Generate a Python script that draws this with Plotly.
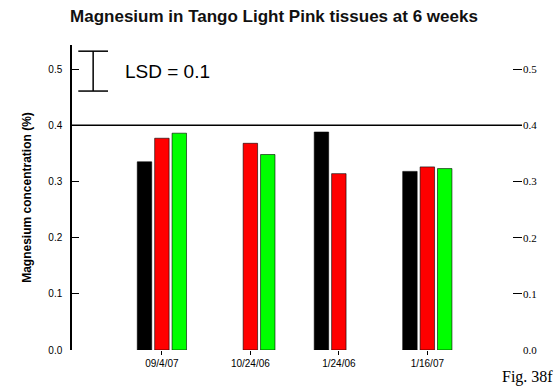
import plotly.graph_objects as go

categories = ["09/4/07", "10/24/06", "1/24/06", "1/16/07"]
series_names = ["Series 1", "Series 2", "Series 3"]
black_vals = [0.335, None, 0.388, 0.318]
red_vals = [0.377, 0.368, 0.314, 0.326]
green_vals = [0.386, 0.348, None, 0.323]
colors = ["#000000", "#ff0000", "#00ff00"]
ref_line = 0.4
y_ticks = [0.0, 0.1, 0.2, 0.3, 0.4, 0.5]
y_tick_labels = ["0.0", "0.1", "0.2", "0.3", "0.4", "0.5"]
lsd_text = "LSD = 0.1"
lsd_top, lsd_bottom = 0.532, 0.461

x_idx = list(range(len(categories)))
fig = go.Figure()
for name, vals, c in zip(series_names, [black_vals, red_vals, green_vals], colors):
    fig.add_trace(go.Bar(x=x_idx, y=vals, name=name, marker=dict(color=c, line=dict(color="#000000", width=0.6)),
                         showlegend=False))
# invisible trace for right axis
fig.add_trace(go.Scatter(x=[None], y=[None], yaxis="y2", showlegend=False))

fig.update_layout(
    width=558, height=387,
    margin=dict(l=72, r=36, t=45, b=37, autoexpand=False),
    plot_bgcolor="white", paper_bgcolor="white",
    barmode="group", bargap=0.41, bargroupgap=0.17,
    title=dict(text="<b>Magnesium in Tango Light Pink tissues at 6 weeks</b>", x=0.491, xanchor="center", y=0.958,
               yanchor="middle", font=dict(family="Liberation Sans", size=17, color="#111111")),
    xaxis=dict(range=[-1.016, 4.07], tickmode="array", tickvals=x_idx, ticktext=categories, automargin=False,
               showline=False, showgrid=False, zeroline=False, ticks="outside", ticklen=4, tickcolor="#000",
               tickfont=dict(family="Liberation Sans", size=10, color="#000")),
    yaxis=dict(range=[0, 0.543], tickmode="array", tickvals=y_ticks, ticktext=y_tick_labels, automargin=False,
               showline=True, linecolor="#000", linewidth=1.5, showgrid=False, zeroline=False,
               ticks="inside", ticklen=7, tickcolor="#000", ticklabelstandoff=6,
               tickfont=dict(family="Liberation Sans", size=10, color="#000"),
               title=dict(text="<b>Magnesium concentration (%)</b>", standoff=14,
                          font=dict(family="Liberation Sans", size=12, color="#000"))),
    yaxis2=dict(range=[0, 0.543], overlaying="y", side="right", tickmode="array", tickvals=y_ticks, automargin=False,
                ticktext=y_tick_labels, showline=False, showgrid=False, zeroline=False,
                ticks="inside", ticklen=9, tickcolor="#000",
                tickfont=dict(family="Liberation Serif", size=11, color="#000")),
)

fig.add_shape(type="line", xref="paper", yref="y", x0=0, x1=1, y0=ref_line, y1=ref_line,
              line=dict(color="#000", width=1.5))
# LSD bracket
bx0, bx1, bxm = 0.014, 0.08, 0.047
for yy in (lsd_top, lsd_bottom):
    fig.add_shape(type="line", xref="paper", yref="y", x0=bx0, x1=bx1, y0=yy, y1=yy, line=dict(color="#000", width=1.5))
fig.add_shape(type="line", xref="paper", yref="y", x0=bxm, x1=bxm, y0=lsd_bottom, y1=lsd_top, line=dict(color="#000", width=1.5))
fig.add_annotation(text=lsd_text, xref="paper", yref="y", x=0.113, y=(lsd_top + lsd_bottom) / 2,
                   xanchor="left", yanchor="middle", showarrow=False,
                   font=dict(family="Liberation Sans", size=19, color="#000"))
fig.add_annotation(text="Fig. 38f", xref="paper", yref="paper", x=1.073, y=-0.09, xanchor="right",
                   yanchor="middle", showarrow=False, font=dict(family="Liberation Serif", size=16, color="#000"))

fig.write_html("out.html", config={"displayModeBar": False},
               post_script="document.body.style.margin='0';")
